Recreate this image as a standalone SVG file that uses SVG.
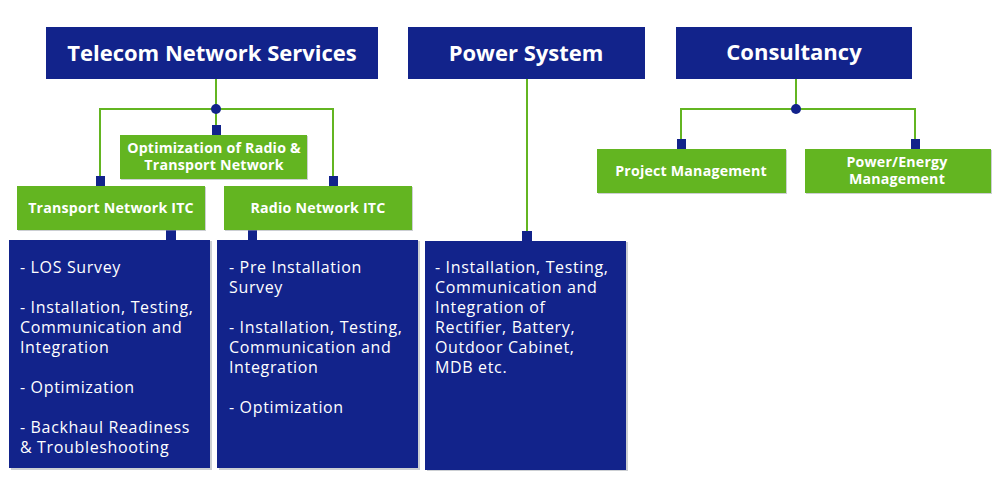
<svg xmlns="http://www.w3.org/2000/svg" width="1000" height="500" viewBox="0 0 1000 500">
<style>
.hdr{fill:#12238b}
.grn{fill:#63b521}
.sh{fill:#9aa0a8;opacity:0.5}
.sq{fill:#12238b}
.ln{stroke:#63b521;stroke-width:2;fill:none}
.ht{font-family:"Open Sans",sans-serif;font-weight:bold;font-size:22px;fill:#fff;text-anchor:middle}
.gt{font-family:"Open Sans",sans-serif;font-weight:bold;font-size:14.2px;letter-spacing:0.2px;fill:#fff;text-anchor:middle}
.bt{font-family:"Open Sans",sans-serif;font-size:16px;letter-spacing:0.65px;fill:#fff}
</style>
<rect width="1000" height="500" fill="#fff"/>
<g id="connectors">
<path class="ln" d="M216 79V109M100 176V109H333V176M216 109V125"/>
<circle cx="216" cy="109" r="5" fill="#12238b"/>
<rect class="sq" x="96" y="176" width="9" height="10"/>
<rect class="sq" x="329" y="176" width="9" height="10"/>
<rect class="sq" x="212" y="125" width="9" height="10"/>
<rect class="sq" x="166" y="230" width="10" height="10"/>
<rect class="sq" x="248" y="230" width="9" height="10"/>
<path class="ln" d="M527 79V231"/>
<rect class="sq" x="522" y="231" width="10" height="10"/>
<path class="ln" d="M796 79V109M681 139V109H915V139"/>
<circle cx="796" cy="109" r="5" fill="#12238b"/>
<rect class="sq" x="677" y="139" width="9" height="10"/>
<rect class="sq" x="911" y="139" width="9" height="10"/>
</g>
<g id="telecom">
<rect class="hdr" x="46" y="27" width="332" height="52"/>
<text class="ht" x="212" y="61">Telecom Network Services</text>
</g>
<g id="power">
<rect class="hdr" x="408" y="27" width="237" height="52"/>
<text class="ht" x="526" y="61">Power System</text>
</g>
<g id="consultancy">
<rect class="hdr" x="676" y="27" width="236" height="52"/>
<text class="ht" x="794" y="60">Consultancy</text>
</g>
<g id="optimization">
<rect class="sh" x="121" y="136" width="187" height="44"/>
<rect class="grn" x="120" y="135" width="187" height="44"/>
<text class="gt" x="214" y="153">Optimization of Radio &amp;</text>
<text class="gt" x="214" y="170">Transport Network</text>
</g>
<g id="transport">
<rect class="sh" x="18" y="187" width="188" height="44"/>
<rect class="grn" x="17" y="186" width="188" height="44"/>
<text class="gt" x="111" y="213">Transport Network ITC</text>
</g>
<g id="radio">
<rect class="sh" x="225" y="187" width="188" height="44"/>
<rect class="grn" x="224" y="186" width="188" height="44"/>
<text class="gt" x="318" y="213">Radio Network ITC</text>
</g>
<g id="project">
<rect class="sh" x="598" y="150" width="189" height="44"/>
<rect class="grn" x="597" y="149" width="189" height="44"/>
<text class="gt" x="691" y="176">Project Management</text>
</g>
<g id="energy">
<rect class="sh" x="806" y="150" width="186" height="44"/>
<rect class="grn" x="805" y="149" width="186" height="44"/>
<text class="gt" x="897" y="167">Power/Energy</text>
<text class="gt" x="897" y="184">Management</text>
</g>
<g id="transport-list">
<rect class="sh" x="11" y="241" width="201" height="229"/>
<rect class="hdr" x="9" y="240" width="201" height="228"/>
<text class="bt"><tspan x="20" y="273">- LOS Survey</tspan><tspan x="20" y="313">- Installation, Testing,</tspan><tspan x="20" y="333">Communication and</tspan><tspan x="20" y="353">Integration</tspan><tspan x="20" y="393">- Optimization</tspan><tspan x="20" y="433">- Backhaul Readiness</tspan><tspan x="20" y="453">&amp; Troubleshooting</tspan></text>
</g>
<g id="radio-list">
<rect class="sh" x="219" y="241" width="201" height="229"/>
<rect class="hdr" x="217" y="240" width="201" height="228"/>
<text class="bt"><tspan x="229" y="273">- Pre Installation</tspan><tspan x="229" y="293">Survey</tspan><tspan x="229" y="333">- Installation, Testing,</tspan><tspan x="229" y="353">Communication and</tspan><tspan x="229" y="373">Integration</tspan><tspan x="229" y="413">- Optimization</tspan></text>
</g>
<g id="power-list">
<rect class="sh" x="427" y="242" width="201" height="229"/>
<rect class="hdr" x="425" y="241" width="201" height="229"/>
<text class="bt"><tspan x="435" y="273">- Installation, Testing,</tspan><tspan x="435" y="293">Communication and</tspan><tspan x="435" y="313">Integration of</tspan><tspan x="435" y="333">Rectifier, Battery,</tspan><tspan x="435" y="353">Outdoor Cabinet,</tspan><tspan x="435" y="373">MDB etc.</tspan></text>
</g>
</svg>
